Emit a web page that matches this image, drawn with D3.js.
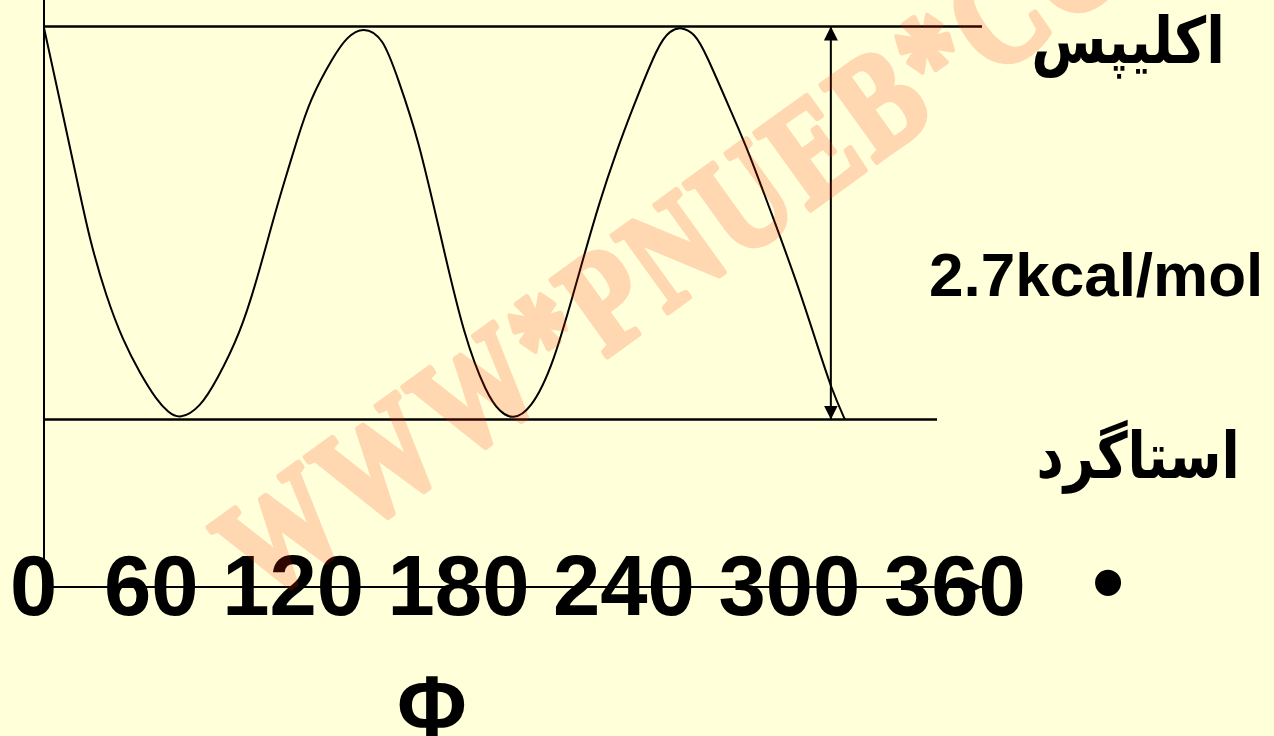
<!DOCTYPE html>
<html>
<head>
<meta charset="utf-8">
<script src="https://cdn.jsdelivr.net/npm/d3@7"></script>
<style>
  html, body { margin: 0; padding: 0; background: #FFFFD9; }
  svg { display: block; }
</style>
</head>
<body>
<script>
// dihedral angle (deg) and energy (kcal/mol)
var phi = [0, 8, 15.3, 20.6, 28, 35.5, 43, 50.7, 55.7, 61, 70, 77.6, 88, 95.6, 102.8, 108.2, 113.6, 119.4, 129.7, 136, 143.2,
           152.2, 158.9, 167.9, 178.2, 188.5, 198.8, 204.7, 210.5, 218.1, 228.5, 240.6, 249.6, 257.2, 263, 276, 281, 285.9,
           292.2, 296.7, 309.7, 316, 327.2, 338, 346.9, 353.7, 359.5];
var energy = [2.69, 2.13, 1.61, 1.23, 0.84, 0.54, 0.32, 0.13, 0.05, 0, 0.08, 0.27, 0.59, 0.96, 1.37, 1.65, 1.92, 2.2, 2.49, 2.63, 2.7,
              2.63, 2.34, 1.94, 1.25, 0.57, 0.17, 0.05, 0, 0.06, 0.36, 1.03, 1.51, 1.85, 2.09, 2.59, 2.67, 2.7,
              2.65, 2.53, 2.07, 1.85, 1.39, 0.94, 0.52, 0.2, 0];
var tickLabels = ["0", "60", "120", "180", "240", "300", "360"];
var barrier = 2.7;
var arrowPhi = 353.2;
var eclipsedLabel = "اکلیپس";
var staggeredLabel = "استاگرد";
var barrierLabel = "2.7kcal/mol";
var axisLabel = "Φ";
var watermark = "WWW*PNUEB*COM";

var W = 1274, H = 736;

var svg = d3.select("body").append("svg")
    .attr("width", W)
    .attr("height", H);

svg.append("rect").attr("width", W).attr("height", H).attr("fill", "#FFFFD9");

var x = d3.scaleLinear().domain([0, 360]).range([44, 846]);
var y = d3.scaleLinear().domain([0, barrier]).range([419.5, 26.5]);

var defs = svg.append("defs");
defs.append("marker")
    .attr("id", "head")
    .attr("viewBox", "0 0 14 14")
    .attr("refX", 14).attr("refY", 7)
    .attr("markerWidth", 14).attr("markerHeight", 14)
    .attr("markerUnits", "userSpaceOnUse")
    .attr("orient", "auto-start-reverse")
  .append("path")
    .attr("d", "M0,0L14,7L0,14Z")
    .attr("fill", "#000");

var g = svg.append("g");

// reference lines for eclipsed / staggered levels
g.append("line")
    .attr("x1", x(0)).attr("x2", 982)
    .attr("y1", y(barrier)).attr("y2", y(barrier))
    .attr("stroke", "#000").attr("stroke-width", 2.4);
g.append("line")
    .attr("x1", x(0)).attr("x2", 937)
    .attr("y1", y(0)).attr("y2", y(0))
    .attr("stroke", "#000").attr("stroke-width", 2.4);

// axes of the sketch
g.append("line")
    .attr("x1", x(0)).attr("x2", x(0))
    .attr("y1", 0).attr("y2", 587)
    .attr("stroke", "#000").attr("stroke-width", 2);
g.append("line")
    .attr("x1", x(0)).attr("x2", 982)
    .attr("y1", 587).attr("y2", 587)
    .attr("stroke", "#000").attr("stroke-width", 2)
    .attr("marker-end", "url(#head)");

// energy curve
var data = phi.map(function(d, i) { return {phi: d, e: energy[i]}; });
var line = d3.line()
    .x(function(d) { return x(d.phi); })
    .y(function(d) { return y(d.e); })
    .curve(d3.curveBasis);

g.append("path")
    .datum(data)
    .attr("d", line)
    .attr("fill", "none")
    .attr("stroke", "#000")
    .attr("stroke-width", 2);

// barrier arrow
g.append("line")
    .attr("x1", x(arrowPhi)).attr("x2", x(arrowPhi))
    .attr("y1", y(0)).attr("y2", y(barrier))
    .attr("stroke", "#000").attr("stroke-width", 2)
    .attr("marker-start", "url(#head)")
    .attr("marker-end", "url(#head)");

// texts
var sans = "'Liberation Sans', Arial, Helvetica, sans-serif";
var arab = "'DejaVu Sans', sans-serif";

g.append("text")
    .attr("x", 10).attr("y", 615)
    .attr("font-family", sans).attr("font-weight", "bold")
    .attr("font-size", 85)
    .text(tickLabels[0]);

g.append("text")
    .attr("x", 104).attr("y", 615)
    .attr("font-family", sans).attr("font-weight", "bold")
    .attr("font-size", 85)
    .text(tickLabels.slice(1).join(" "));

g.append("text")
    .attr("x", 1108).attr("y", 615)
    .attr("text-anchor", "middle")
    .attr("font-family", sans).attr("font-size", 96)
    .text("•");

g.append("text")
    .attr("x", 432).attr("y", 736)
    .attr("text-anchor", "middle")
    .attr("font-family", sans).attr("font-weight", "bold")
    .attr("font-size", 85)
    .text(axisLabel);

g.append("text")
    .attr("x", 929).attr("y", 296)
    .attr("font-family", sans).attr("font-weight", "bold")
    .attr("font-size", 62)
    .text(barrierLabel);

g.append("text")
    .attr("transform", "translate(1128,63) scale(0.85,1)")
    .attr("text-anchor", "middle")
    .attr("font-family", arab).attr("font-weight", "bold")
    .attr("font-size", 64)
    .text(eclipsedLabel);

g.append("text")
    .attr("transform", "translate(1138,478) scale(0.83,1)")
    .attr("text-anchor", "middle")
    .attr("font-family", arab).attr("font-weight", "bold")
    .attr("font-size", 64)
    .text(staggeredLabel);

// watermark over everything, composited as one translucent layer
svg.append("g")
    .attr("opacity", 0.18)
  .append("text")
    .attr("transform", "translate(262,605) rotate(-35.8) scale(1,1.25)")
    .attr("font-family", "'Liberation Serif', 'Times New Roman', serif")
    .attr("font-weight", "bold")
    .attr("font-size", 115)
    .attr("letter-spacing", 5)
    .attr("fill", "rgb(255,40,0)")
    .attr("stroke", "rgb(255,40,0)")
    .attr("stroke-width", 5)
    .attr("stroke-linejoin", "round")
    .text(watermark);
</script>
</body>
</html>
